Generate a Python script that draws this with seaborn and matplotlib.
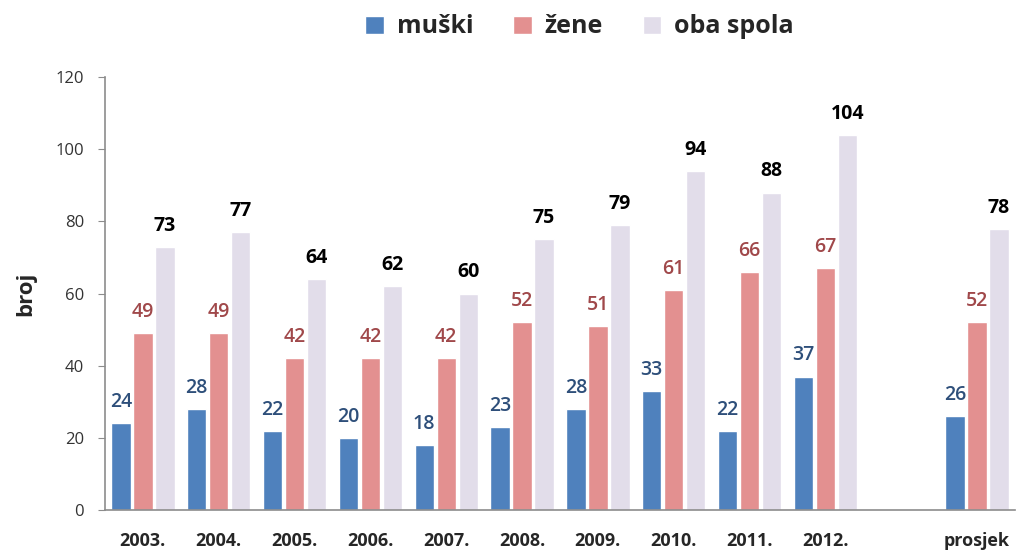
import matplotlib
matplotlib.use('Agg')
import matplotlib.pyplot as plt
import seaborn as sns
import pandas as pd

godine = ['2003.', '2004.', '2005.', '2006.', '2007.', '2008.', '2009.',
          '2010.', '2011.', '2012.', 'prosjek']
muski = [24, 28, 22, 20, 18, 23, 28, 33, 22, 37, 26]
zene = [49, 49, 42, 42, 42, 52, 51, 61, 66, 67, 52]
oba_spola = [73, 77, 64, 62, 60, 75, 79, 94, 88, 104, 78]
serije = ['muški', 'žene', 'oba spola']

# prazan razmak izmedju 2012. i prosjeka
poredak = godine[:10] + [' '] + godine[10:]

df = pd.DataFrame({
    'godina': godine * 3,
    'spol': [s for s in serije for _ in godine],
    'broj': muski + zene + oba_spola,
})

boje = ['#4F81BD', '#E39090', '#E2DDEA']
boje_oznaka = ['#2E4F7A', '#A0484A', '#000000']
tezine = ['semibold', 'semibold', 'bold']

sns.set_style('white')
plt.rcParams['font.family'] = ['Open Sans', 'DejaVu Sans']

fig = plt.figure(figsize=(10.22, 5.6), dpi=100)
ax = fig.add_axes([0.1027, 0.0893, 0.8904, 0.773])

sns.barplot(data=df, x='godina', y='broj', hue='spol', order=poredak,
            hue_order=serije, palette=boje, width=0.87, gap=0.12,
            saturation=1, ax=ax, legend=True)

for cont, c, w in zip(ax.containers, boje_oznaka, tezine):
    ax.bar_label(cont, fmt='%d', padding=8, color=c, fontsize=14,
                 fontweight=w)

ax.set_ylim(0, 120)
ax.set_yticks(range(0, 121, 20))
ax.set_xlim(-0.5, len(poredak) - 0.5)
ax.set_xlabel('')
ax.set_ylabel('broj', fontsize=16, fontweight='bold', labelpad=14)

for s in ['top', 'right']:
    ax.spines[s].set_visible(False)
for s in ['left', 'bottom']:
    ax.spines[s].set_color('#8C8C8C')
    ax.spines[s].set_linewidth(1.2)

ax.tick_params(axis='y', which='both', left=True, length=5, color='#8C8C8C',
               labelsize=12, pad=10, labelcolor='#333333')
ax.tick_params(axis='x', bottom=False, labelsize=13, pad=12)
for t in ax.get_xticklabels():
    t.set_fontweight('bold')

handles, labels = ax.get_legend_handles_labels()
ax.get_legend().remove()
fig.legend(handles, labels, loc='center', bbox_to_anchor=(0.567, 0.952),
           ncol=3, frameon=False, handlelength=0.75, handleheight=0.75,
           columnspacing=1.6, handletextpad=0.5,
           prop={'size': 18, 'weight': 'bold'})

fig.savefig('out.png', dpi=100)
